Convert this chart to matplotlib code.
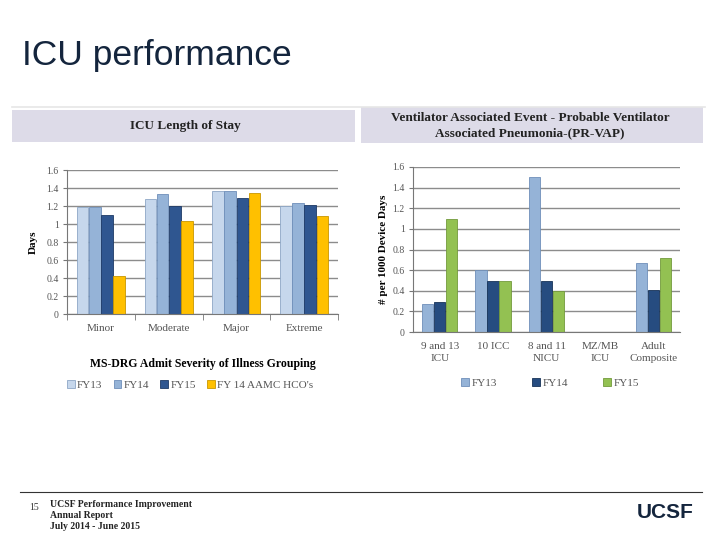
import matplotlib
matplotlib.use("Agg")
import matplotlib.pyplot as plt
from matplotlib.patches import Rectangle, Patch
import numpy as np

# ---- data ----
los_categories = ["Minor", "Moderate", "Major", "Extreme"]
los_series = ["FY13", "FY14", "FY15", "FY 14 AAMC HCO's"]
los_fy13 = [1.19, 1.28, 1.37, 1.20]
los_fy14 = [1.19, 1.33, 1.37, 1.23]
los_fy15 = [1.10, 1.20, 1.29, 1.21]
los_aamc = [0.42, 1.03, 1.35, 1.09]
los_yticks = [0, 0.2, 0.4, 0.6, 0.8, 1, 1.2, 1.4, 1.6]

vap_categories = ["9 and 13\nICU", "10 ICC", "8 and 11\nNICU", "MZ/MB\nICU", "Adult\nComposite"]
vap_series = ["FY13", "FY14", "FY15"]
vap_fy13 = [0.27, 0.60, 1.50, 0.0, 0.67]
vap_fy14 = [0.29, 0.49, 0.49, 0.0, 0.41]
vap_fy15 = [1.10, 0.49, 0.40, 0.0, 0.72]
vap_yticks = [0, 0.2, 0.4, 0.6, 0.8, 1, 1.2, 1.4, 1.6]

W, H = 720, 540
fig = plt.figure(figsize=(7.2, 5.4), dpi=100)
fig.patch.set_facecolor("white")

def fx(px): return px / W
def fy(py): return 1 - py / H

serif = "Liberation Serif"

# slide title
fig.text(fx(22), fy(55), "ICU performance", fontsize=25.5, color="#14253d",
         family="Liberation Sans", va="center", ha="left")
# thin gray rule under title
fig.add_artist(plt.Line2D([fx(12), fx(705)], [fy(107), fy(107)], color="#e6e6e6", lw=1.2))

# header boxes
fig.add_artist(Rectangle((fx(12), fy(142)), fx(355) - fx(12), fy(110) - fy(142),
                         transform=fig.transFigure, facecolor="#dddbe8", edgecolor="none"))
fig.add_artist(Rectangle((fx(361), fy(143)), fx(703) - fx(361), fy(107) - fy(143),
                         transform=fig.transFigure, facecolor="#dddbe8", edgecolor="none"))
fig.text(fx(185), fy(126), "ICU Length of Stay", fontsize=9.5, fontweight="bold",
         family=serif, ha="center", va="center", color="#222222")
fig.text(fx(530), fy(126), "Ventilator Associated Event - Probable Ventilator\nAssociated Pneumonia-(PR-VAP)",
         fontsize=9.5, fontweight="bold", family=serif, ha="center", va="center",
         color="#222222", linespacing=1.35)

grid_c = "#8c8c8c"

def style_axes(ax, yticks):
    ax.set_facecolor("white")
    ax.set_ylim(0, 1.6)
    ax.set_yticks(yticks)
    ax.set_yticklabels([("%g" % t) for t in yticks], family=serif, fontsize=7, color="#555555")
    ax.yaxis.grid(True, color=grid_c, lw=1.0)
    ax.set_axisbelow(True)
    for s in ["top", "right"]:
        ax.spines[s].set_visible(False)
    ax.spines["left"].set_color("#777777")
    ax.spines["bottom"].set_color("#777777")
    ax.tick_params(axis="y", length=3, color="#777777", pad=3)
    ax.tick_params(axis="x", length=0, pad=7)

# ---- left chart ----
axL = fig.add_axes([fx(67), fy(314), fx(338) - fx(67), fy(170) - fy(314)])
n = len(los_categories)
x = np.arange(n)
bw = 0.18
colsL = ["#c6d7ec", "#95b3d7", "#2f5690", "#ffc000"]
edgesL = ["#8ea7c6", "#6f8fb9", "#1e3a66", "#c99700"]
for i, (vals, c, e) in enumerate(zip([los_fy13, los_fy14, los_fy15, los_aamc], colsL, edgesL)):
    axL.bar(x + (i - 1.5) * bw, vals, bw * 0.95, color=c, edgecolor=e, lw=0.6, label=los_series[i])
axL.set_xlim(-0.5, n - 0.5)
style_axes(axL, los_yticks)
axL.set_xticks(x)
axL.set_xticklabels(los_categories, family=serif, fontsize=8, color="#555555")
axL.set_xticks(np.arange(-0.5, n, 1), minor=True)
axL.tick_params(axis="x", which="minor", length=4, color="#777777")
axL.set_ylabel("Days", family=serif, fontsize=8, fontweight="bold", labelpad=6)
axL.set_xlabel("MS-DRG Admit Severity of Illness Grouping", family=serif, fontsize=8.5,
               fontweight="bold", labelpad=18)
handlesL = [Patch(facecolor=c, edgecolor=e, lw=0.6) for c, e in zip(colsL, edgesL)]
fig.legend(handlesL, los_series, loc="center", bbox_to_anchor=(fx(190), fy(385)), ncol=4,
           frameon=False, prop={"family": serif, "size": 8}, handlelength=0.7,
           handleheight=0.7, handletextpad=0.2, columnspacing=1.0, labelcolor="#555555")

# ---- right chart ----
axR = fig.add_axes([fx(413), fy(332), fx(680) - fx(413), fy(167) - fy(332)])
m = len(vap_categories)
xr = np.arange(m)
bw2 = 0.225
colsR = ["#95b3d7", "#264c80", "#93c152"]
edgesR = ["#6f8fb9", "#173358", "#739a3c"]
for i, (vals, c, e) in enumerate(zip([vap_fy13, vap_fy14, vap_fy15], colsR, edgesR)):
    heights = np.array(vals)
    mask = heights > 0
    axR.bar(xr[mask] + (i - 1) * bw2, heights[mask], bw2 * 0.95, color=c, edgecolor=e, lw=0.6)
axR.set_xlim(-0.5, m - 0.5)
style_axes(axR, vap_yticks)
axR.set_xticks(xr)
axR.set_xticklabels(vap_categories, family=serif, fontsize=8, color="#555555", linespacing=1.5)
axR.set_ylabel("# per 1000 Device Days", family=serif, fontsize=8, fontweight="bold", labelpad=3)
handlesR = [Patch(facecolor=c, edgecolor=e, lw=0.6) for c, e in zip(colsR, edgesR)]
fig.legend(handlesR, vap_series, loc="center", bbox_to_anchor=(fx(550), fy(383)), ncol=3,
           frameon=False, prop={"family": serif, "size": 8}, handlelength=0.7,
           handleheight=0.7, handletextpad=0.2, columnspacing=3.2, labelcolor="#555555")

# ---- footer ----
fig.add_artist(plt.Line2D([fx(20), fx(702)], [fy(492), fy(492)], color="#333333", lw=0.8))
fig.text(fx(29), fy(507), "15", fontsize=7, family=serif, color="#333333", va="center")
fig.text(fx(50), fy(500), "UCSF Performance Improvement\nAnnual Report\nJuly 2014 - June 2015",
         fontsize=7, family=serif, fontweight="bold", color="#222222", va="top",
         linespacing=1.3)
fig.text(fx(665), fy(513), "UCSF", fontsize=15, family="Liberation Sans", fontweight="bold",
         color="#14253d", ha="center", va="center")

fig.savefig("out.png", dpi=100)
